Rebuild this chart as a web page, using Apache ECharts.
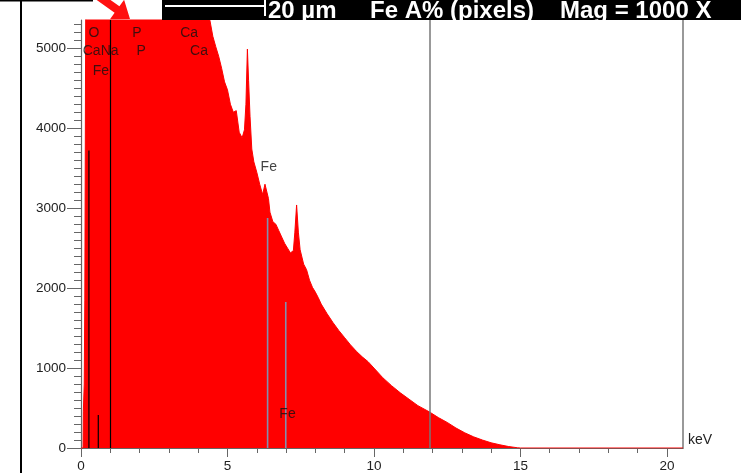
<!DOCTYPE html>
<html>
<head>
<meta charset="utf-8">
<script src="https://cdn.jsdelivr.net/npm/echarts@6.0.0/dist/echarts.min.js"></script>
<style>
html,body{margin:0;padding:0;background:#fff;}
#chart{width:741px;height:473px;}
</style>
</head>
<body>
<div id="chart"></div>
<script>
// Spectrum (energy in keV, counts)
var specKeV = [0.00,0.07,0.08,0.11,0.13,0.16,0.17,0.30,0.50,1.00,1.50,2.00,2.50,3.00,3.50,4.00,4.30,
  4.40,4.50,4.60,4.70,4.80,4.90,5.00,5.10,5.20,5.30,5.40,5.50,5.58,5.63,5.68,5.72,5.77,5.83,5.90,
  6.00,6.10,6.20,6.28,6.34,6.40,6.45,6.55,6.65,6.75,6.85,6.95,7.05,7.15,7.25,7.30,7.36,7.42,7.48,
  7.60,7.70,7.80,7.90,8.00,8.10,8.20,8.40,8.60,8.80,9.00,9.20,9.40,9.60,9.80,10.00,10.30,10.60,
  10.90,11.20,11.50,11.90,12.20,12.50,12.80,13.10,13.40,13.70,14.00,14.30,14.60,14.90,15.00,20.55];
var specCounts = [0,0,460,800,1850,1850,6500,9000,14000,16000,14000,13000,11000,9500,8000,6500,5600,
  5350,5150,5020,4900,4750,4580,4480,4300,4200,4220,3950,3880,3980,4300,4990,4600,4150,3740,3580,
  3450,3300,3170,3300,3280,3120,2950,2830,2800,2720,2640,2560,2500,2440,2470,2700,3040,2700,2480,
  2300,2230,2100,2010,1950,1880,1800,1680,1570,1470,1380,1290,1210,1140,1080,1000,880,780,
  690,610,530,450,380,320,250,190,140,100,65,40,18,3,0,0];

// KLM marker lines (keV, height in counts)
var markerKeV = [0.27, 0.59, 6.37, 6.99];
var markerHeight = [3720, 414, 2878, 1826];
var markerDark = [true, true, false, false];
// Full-height cursor lines (keV)
var cursorKeV = [1.01, 11.91];

// Element labels (keV, counts, text)
var labelKeV = [0.44, 1.91, 3.69, 0.67, 2.05, 4.03, 0.68, 6.41, 7.05];
var labelCounts = [5190, 5190, 5190, 4965, 4965, 4965, 4720, 3515, 425];
var labelText = ['O', 'P', 'Ca', 'CaNa', 'P', 'Ca', 'Fe', 'Fe', 'Fe'];

// Axis ticks
var xTicks = [0, 5, 10, 15, 20];
var yTicks = [0, 1000, 2000, 3000, 4000, 5000];
var xMax = 20.55, yMax = 5354;

var xMinor = []; for (var i = 0; i <= 20; i++) xMinor.push(i);
var yMinor = []; for (var j = 0; j <= 5300; j += 100) yMinor.push(j);

var spec = specKeV.map(function (k, i) { return [k, specCounts[i]]; });
var FONT = "'Liberation Sans', Arial, sans-serif";

var series = [{
  type: 'line', data: spec, symbol: 'none', clip: true, z: 2,
  lineStyle: { color: '#ff0000', width: 1 },
  areaStyle: { color: '#ff0000', opacity: 1 },
  markLine: {
    silent: true, symbol: 'none', label: { show: false },
    data: cursorKeV.map(function (k, i) {
      return { xAxis: k, lineStyle: { color: i === 0 ? '#000' : '#777', width: i === 0 ? 1.2 : 1.5, type: 'solid' } };
    })
  }
}];
markerKeV.forEach(function (k, i) {
  series.push({
    type: 'line', symbol: 'none', z: 3,
    data: [[k, 0], [k, markerHeight[i]]],
    lineStyle: { color: markerDark[i] ? '#000' : '#8090b0', width: markerDark[i] ? 1.2 : 1.6 }
  });
});
series.push({
  type: 'scatter', symbolSize: 0, z: 5, silent: true,
  data: labelKeV.map(function (k, i) { return { value: [k, labelCounts[i]], name: labelText[i] }; }),
  label: { show: true, position: 'inside', formatter: '{b}', color: '#111', fontSize: 14, fontFamily: FONT }
});

var axisText = { color: '#222', fontSize: 13.5, fontFamily: FONT };
var plain = function (v) { return String(v); };

var option = {
  animation: false,
  backgroundColor: '#fff',
  grid: { left: 81, right: 58, top: 20, bottom: 22, containLabel: false },
  xAxis: [{
    type: 'value', min: 0, max: xMax,
    axisLine: { show: true, lineStyle: { color: '#666', width: 1.2 } },
    axisTick: { show: true, customValues: xTicks, length: 9, lineStyle: { color: '#666' } },
    axisLabel: { show: true, customValues: xTicks, margin: 11, formatter: plain, ...axisText },
    splitLine: { show: false },
    name: 'keV', nameLocation: 'end', nameGap: 5,
    nameTextStyle: { color: '#222', fontSize: 14, fontFamily: FONT, verticalAlign: 'bottom', lineHeight: 16, padding: [0, 0, 0, 0] }
  }, {
    type: 'value', min: 0, max: xMax, position: 'bottom',
    axisLine: { show: false },
    axisTick: { show: true, customValues: xMinor, length: 5, lineStyle: { color: '#666' } },
    axisLabel: { show: false }, splitLine: { show: false }
  }],
  yAxis: [{
    type: 'value', min: 0, max: yMax,
    axisLine: { show: true, lineStyle: { color: '#666', width: 1.2 } },
    axisTick: { show: true, customValues: yTicks, length: 14, lineStyle: { color: '#666' } },
    axisLabel: { show: true, customValues: yTicks, margin: 15, formatter: plain, ...axisText },
    splitLine: { show: false }
  }, {
    type: 'value', min: 0, max: yMax, position: 'left',
    axisLine: { show: false },
    axisTick: { show: true, customValues: yMinor, length: 7, lineStyle: { color: '#666' } },
    axisLabel: { show: false }, splitLine: { show: false }
  }, {
    type: 'value', min: 0, max: yMax, position: 'right',
    axisLine: { show: true, lineStyle: { color: '#777', width: 1.5 } },
    axisTick: { show: false }, axisLabel: { show: false }, splitLine: { show: false }
  }],
  series: series,
  graphic: [
    { type: 'rect', shape: { x: 20, y: 0, width: 2, height: 473 }, style: { fill: '#000' }, z: 100 },
    { type: 'rect', shape: { x: 0, y: 0, width: 93, height: 1.5 }, style: { fill: '#000' }, z: 100 },
    { type: 'polygon', z: 100,
      shape: { points: [[95.6, -0.8], [114.6, 12.7], [110, 19.2], [130, 19], [124.1, -0.2], [119.4, 6.3], [100.4, -7.2]] },
      style: { fill: '#ff1010' } },
    { type: 'rect', shape: { x: 162, y: 0, width: 579, height: 20 }, style: { fill: '#000' }, z: 100 },
    { type: 'rect', shape: { x: 165, y: 5, width: 100, height: 2 }, style: { fill: '#fff' }, z: 101 },
    { type: 'rect', shape: { x: 264, y: 0, width: 2, height: 16 }, style: { fill: '#fff' }, z: 101 },
    { type: 'text', x: 268, y: 11, z: 101, style: { text: '20 µm', fill: '#fff', font: "bold 24px 'Liberation Sans', Arial, sans-serif", verticalAlign: 'middle', align: 'left' } },
    { type: 'text', x: 370, y: 11, z: 101, style: { text: 'Fe A% (pixels)', fill: '#fff', font: "bold 24px 'Liberation Sans', Arial, sans-serif", verticalAlign: 'middle', align: 'left' } },
    { type: 'text', x: 560, y: 11, z: 101, style: { text: 'Mag = 1000 X', fill: '#fff', font: "bold 24px 'Liberation Sans', Arial, sans-serif", verticalAlign: 'middle', align: 'left' } }
  ]
};

var chart = echarts.init(document.getElementById('chart'), null, { renderer: 'canvas' });
chart.setOption(option);
</script>
</body>
</html>
